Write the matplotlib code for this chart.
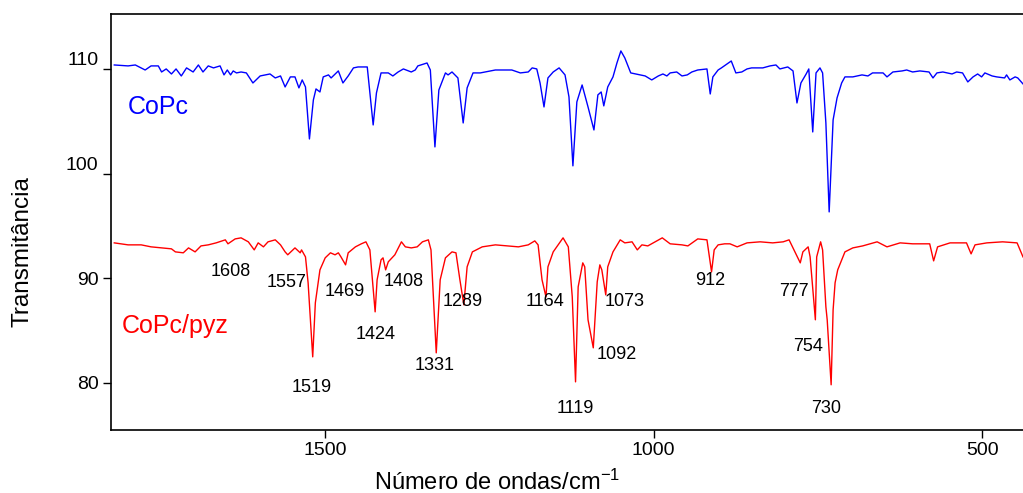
import matplotlib
matplotlib.use("Agg")
import matplotlib.pyplot as plt

plt.rcParams['font.family'] = ['Liberation Sans', 'DejaVu Sans']
plt.rcParams['mathtext.default'] = 'regular'

# CoPc spectrum (wavenumber / cm-1, transmittance)
copc_wn = [1821, 1800, 1789, 1774, 1765, 1754, 1749, 1742, 1734, 1727, 1719, 1711,
           1701, 1693, 1686, 1678, 1670, 1660, 1654, 1649, 1644, 1640, 1635, 1628,
           1620, 1610, 1599, 1584, 1576, 1568, 1561, 1553, 1546, 1540, 1535, 1530,
           1524, 1518, 1514, 1508, 1503, 1495, 1491, 1480, 1473, 1465, 1457, 1450,
           1436, 1427, 1422, 1415, 1404, 1397, 1389, 1381, 1369, 1363, 1359, 1345,
           1340, 1333, 1327, 1317, 1313, 1307, 1298, 1290, 1284, 1275, 1264, 1241,
           1216, 1203, 1191, 1185, 1178, 1173, 1167, 1161, 1153, 1144, 1135, 1129,
           1123, 1117, 1109, 1100, 1091, 1085, 1080, 1076, 1070, 1062, 1056, 1050,
           1044, 1035, 1013, 1003, 993, 986, 980, 975, 965, 957, 949, 942,
           933, 919, 914, 910, 902, 897, 882, 875, 866, 858, 851, 834,
           823, 814, 808, 796, 788, 782, 776, 768, 764, 758, 753, 747,
           743, 738, 733, 727, 721, 714, 709, 697, 683, 674, 667, 651,
           645, 636, 622, 615, 606, 595, 581, 575, 569, 560, 546, 539,
           530, 522, 514, 507, 501, 496, 485, 478, 466, 463, 458, 450,
           446, 438]
copc_t = [110.38, 110.29, 110.38, 109.90, 110.29, 110.29, 109.71, 110.00, 109.52, 110.00, 109.33, 110.10,
          109.71, 110.38, 109.71, 110.29, 110.10, 110.29, 109.43, 109.90, 109.43, 109.81, 109.62, 109.71,
          109.62, 108.66, 109.33, 109.52, 109.14, 109.33, 108.28, 109.24, 109.24, 108.19, 108.95, 108.28,
          103.31, 107.04, 108.09, 107.80, 109.24, 109.43, 109.14, 109.81, 108.66, 109.33, 110.10, 110.19,
          110.19, 104.65, 107.71, 109.62, 109.62, 109.33, 109.71, 110.00, 109.71, 109.90, 110.29, 110.57,
          109.90, 102.55, 107.99, 109.62, 109.43, 109.71, 109.14, 104.84, 108.19, 109.62, 109.62, 109.90,
          109.90, 109.62, 109.71, 110.10, 110.00, 108.66, 106.37, 109.14, 109.71, 110.10, 109.43, 107.33,
          100.74, 106.85, 108.47, 106.37, 104.17, 107.52, 107.80, 106.47, 108.28, 109.24, 110.57, 111.72,
          111.05, 109.62, 109.33, 108.95, 109.33, 109.52, 109.33, 109.62, 109.71, 109.33, 109.43, 109.71,
          109.90, 110.00, 107.61, 109.24, 109.90, 110.10, 110.76, 109.62, 109.71, 110.00, 110.10, 110.10,
          110.29, 110.38, 110.00, 110.19, 109.81, 106.75, 108.66, 109.52, 110.00, 103.98, 109.62, 110.10,
          109.62, 104.84, 96.34, 105.13, 107.23, 108.66, 109.24, 109.24, 109.43, 109.33, 109.62, 109.62,
          109.24, 109.71, 109.81, 109.90, 109.71, 109.81, 109.71, 109.14, 109.62, 109.71, 109.52, 109.71,
          109.62, 108.76, 109.24, 109.52, 109.24, 109.62, 109.33, 109.24, 109.14, 109.43, 108.95, 109.24,
          109.14, 108.57]

# CoPc/pyz spectrum
pyz_wn = [1821, 1800, 1780, 1765, 1749, 1734, 1728, 1716, 1708, 1698, 1689, 1678,
          1666, 1652, 1648, 1637, 1628, 1617, 1608, 1602, 1594, 1587, 1576, 1568,
          1561, 1557, 1546, 1538, 1536, 1530, 1526, 1519, 1515, 1508, 1500, 1492,
          1485, 1480, 1476, 1469, 1465, 1454, 1445, 1438, 1432, 1424, 1421, 1415,
          1412, 1408, 1404, 1394, 1384, 1378, 1369, 1360, 1352, 1343, 1339, 1331,
          1325, 1317, 1307, 1301, 1295, 1289, 1284, 1276, 1261, 1241, 1222, 1206,
          1191, 1181, 1176, 1170, 1164, 1161, 1153, 1138, 1130, 1124, 1119, 1115,
          1108, 1105, 1100, 1092, 1086, 1082, 1079, 1073, 1070, 1062, 1051, 1044,
          1033, 1025, 1018, 1009, 998, 987, 975, 957, 948, 933, 919, 912,
          908, 902, 892, 884, 873, 858, 838, 819, 803, 794, 788, 777,
          773, 765, 762, 754, 752, 746, 743, 738, 736, 730, 727, 724,
          720, 709, 697, 682, 660, 651, 645, 625, 606, 580, 574, 568,
          549, 524, 517, 511, 493, 469, 447, 438]
pyz_t = [93.38, 93.19, 93.19, 93.00, 92.90, 92.81, 92.52, 92.43, 92.90, 92.52, 93.09, 93.19,
         93.38, 93.67, 93.29, 93.76, 93.86, 93.48, 92.71, 93.38, 93.00, 93.48, 93.67, 93.19,
         92.52, 92.24, 92.90, 92.43, 92.71, 92.04, 89.56, 82.49, 87.65, 90.80, 91.95, 92.43,
         92.24, 92.43, 92.04, 91.28, 92.43, 93.00, 93.29, 93.48, 92.71, 86.79, 89.85, 91.76,
         91.95, 90.80, 91.57, 92.24, 93.48, 93.00, 92.90, 93.00, 93.48, 93.67, 92.71, 82.87,
         89.85, 91.95, 92.52, 92.43, 89.85, 87.46, 91.09, 92.52, 93.00, 93.19, 93.09, 93.00,
         93.19, 93.57, 93.19, 89.85, 88.22, 91.09, 92.52, 93.86, 93.00, 88.22, 80.10, 89.18,
         91.47, 91.09, 86.03, 83.35, 89.66, 91.28, 90.80, 88.41, 91.09, 92.52, 93.67, 93.38,
         93.48, 92.71, 93.19, 93.09, 93.48, 93.86, 93.29, 93.19, 93.09, 93.76, 93.67, 90.61,
         92.71, 93.19, 93.29, 93.29, 93.00, 93.38, 93.48, 93.38, 93.48, 93.67, 92.90, 91.47,
         92.52, 93.00, 92.04, 86.03, 92.04, 93.48, 92.71, 87.27, 86.03, 79.82, 86.98, 89.56,
         90.80, 92.52, 92.90, 93.09, 93.48, 93.19, 93.00, 93.38, 93.29, 93.29, 91.66, 93.00,
         93.38, 93.38, 92.33, 93.19, 93.38, 93.48, 93.38, 92.04]

# band labels for CoPc/pyz and where the text sits
peak_labels = ['1608', '1557', '1519', '1469', '1424', '1408', '1331', '1289',
               '1164', '1119', '1092', '1073', '912', '777', '754', '730']
label_xy = [(1643, 90.6), (1559, 89.6), (1520, 79.6), (1470, 88.7), (1424, 84.6),
            (1381, 89.7), (1333, 81.7), (1290, 87.8), (1165, 87.8), (1120, 77.6),
            (1056, 82.7), (1045, 87.8), (914, 89.75), (787, 88.7), (765, 83.5),
            (738, 77.6)]

fig = plt.figure(figsize=(10.23, 4.93), dpi=100)
ax = fig.add_axes([0.1085, 0.1278, 0.8915, 0.8438])

ax.plot(copc_wn, copc_t, color='#0000ff', lw=1.0)
ax.plot(pyz_wn, pyz_t, color='#ff0000', lw=1.0)

for txt, (x, y) in zip(peak_labels, label_xy):
    ax.text(x, y, txt, ha='center', va='center', fontsize=13)

ax.text(1800, 106.4, 'CoPc', color='#0000ff', fontsize=18, va='center', ha='left')
ax.text(1809, 85.4, 'CoPc/pyz', color='#ff0000', fontsize=18, va='center', ha='left')

ax.set_xlim(1826, 438)
ax.set_ylim(75.5, 115.25)
ax.set_xticks([1500, 1000, 500])
ax.set_yticks([80, 90, 100, 110])
ax.tick_params(direction='out', length=6, width=1, labelsize=14, pad=3)
for lab in ax.get_yticklabels():
    if lab.get_text() in ('100', '110'):
        lab.set_verticalalignment('bottom')

ax.spines['right'].set_visible(False)
for s in ('left', 'bottom', 'top'):
    ax.spines[s].set_linewidth(1.2)

ax.set_xlabel('Número de ondas/cm$^{-1}$', fontsize=17, va='center')
ax.xaxis.set_label_coords(0.423, -0.125)
ax.set_ylabel('Transmitância', fontsize=17.5, va='center')
ax.yaxis.set_label_coords(-0.097, 0.428)

fig.savefig('out.png', dpi=100)
